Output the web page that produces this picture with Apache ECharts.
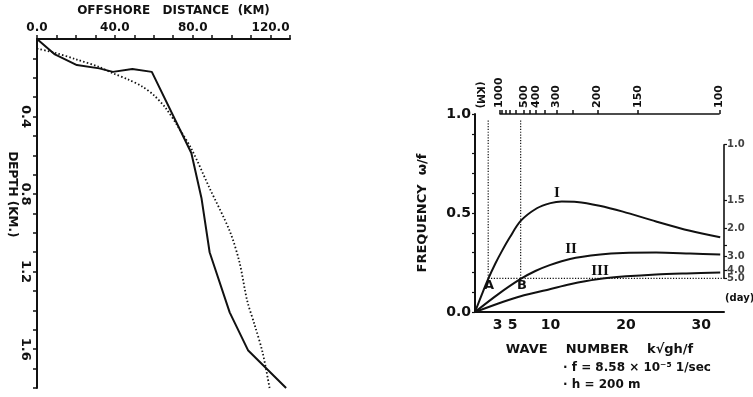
<!DOCTYPE html>
<html>
<head>
<meta charset="utf-8">
<script src="https://cdn.jsdelivr.net/npm/echarts@6/dist/echarts.min.js"></script>
<style>
  html, body { margin: 0; padding: 0; background: #fff; }
  #chart { width: 753px; height: 397px; }
</style>
</head>
<body>
<div id="chart"></div>
<script>
// left panel: shelf profile
const shelfKm = [0, 9.2, 20.5, 32, 39, 49, 59, 79.3, 84.5, 88.7, 99, 108.4, 128];
const shelfDepth = [0, 0.08, 0.135, 0.152, 0.17, 0.155, 0.17, 0.588, 0.82, 1.10, 1.41, 1.605, 1.8];
const modelKm = [0, 9.3, 20, 32, 39, 47, 54, 60, 66, 72, 79.5, 88.7, 99, 104, 108, 112, 116, 119.5];
const modelDepth = [0.05, 0.072, 0.105, 0.145, 0.177, 0.21, 0.245, 0.29, 0.355, 0.445, 0.57, 0.77, 0.99, 1.15, 1.35, 1.48, 1.62, 1.8];
const distLabels = [0, 40, 80, 120];
const depthLabels = [0.4, 0.8, 1.2, 1.6];

// right panel: dispersion curves
const waveNum1 = [0, 0.9, 1.75, 2.7, 3.6, 4.6, 6.05, 8.2, 10, 11.5, 13.5, 16.5, 19.6, 24, 28.5, 32.5];
const freq1 = [0, 0.088, 0.167, 0.245, 0.31, 0.376, 0.46, 0.524, 0.55, 0.558, 0.556, 0.537, 0.507, 0.457, 0.41, 0.378];
const waveNum2 = [0, 3.0, 6.05, 8, 9.9, 12.6, 16.6, 19.6, 24, 28.5, 32.5];
const freq2 = [0, 0.088, 0.167, 0.207, 0.237, 0.268, 0.29, 0.298, 0.3, 0.295, 0.29];
const waveNum3 = [0, 3.75, 6.05, 9.9, 12.6, 16.2, 20, 24, 28, 32.5];
const freq3 = [0, 0.052, 0.08, 0.115, 0.14, 0.165, 0.18, 0.19, 0.195, 0.199];
const waveNumLabels = [3, 5, 10, 20, 30];
const freqLabels = [0, 0.5, 1.0];
const wavelengthLabels = [1000, 500, 400, 300, 200, 150, 100];
const wavelengthTicks = [1000, 900, 800, 700, 600, 500, 450, 400, 350, 300, 250, 200, 150, 100];
const periodLabels = [1.0, 1.5, 2.0, 3.0, 4.0, 5.0];
const periodTicks = [1.0, 1.5, 2.0, 2.5, 3.0, 4.0, 5.0];
const markK = [1.75, 6.05]; // points A and B
const markPeriod = 5.0;

// k*sqrt(gh)/f = 2*pi*sqrt(gh)/f / L  ;  w/f = 2*pi/(f*T)
const kmToK = 3242;
const dayToW = 0.8476;
const kMax = 33;

const font = 'DejaVu Sans';
const black = '#111';
const zip = (a, b) => a.map((v, i) => [v, b[i]]);
const range = (a, b, s) => { const r = []; for (let v = a; v <= b + 1e-9; v += s) r.push(+v.toFixed(3)); return r; };

const chart = echarts.init(document.getElementById('chart'));

const txt = (x, y, text, size, family, align) => ({
  type: 'text', x: x, y: y,
  style: { text: text, font: 'bold ' + size + 'px "' + (family || font) + '"', fill: black, textAlign: align || 'left', textVerticalAlign: 'middle' }
});

const curve = (name, k, w) => ({
  name: name, type: 'line', xAxisIndex: 1, yAxisIndex: 1, data: zip(k, w),
  symbol: 'none', smooth: 0.3, lineStyle: { color: black, width: 2 }
});

const guide = (name, data, clip) => ({
  name: name, type: 'line', xAxisIndex: 1, yAxisIndex: 1, clip: clip, symbol: 'none', silent: true,
  data: data, lineStyle: { color: black, width: 1.2, type: [1.2, 1.6] }
});

const option = {
  backgroundColor: '#fff',
  animation: false,
  grid: [
    { left: 37, top: 37, width: 253, height: 351 },
    { left: 475, top: 114, width: 249, height: 198 }
  ],
  xAxis: [
    {
      gridIndex: 0, type: 'value', position: 'top', min: 0, max: 130,
      name: 'OFFSHORE   DISTANCE  (KM)', nameLocation: 'middle', nameGap: 21,
      nameTextStyle: { fontFamily: font, fontWeight: 'bold', fontSize: 12, color: black, padding: [0, 0, 0, 20] },
      axisLine: { onZero: false, lineStyle: { color: black, width: 2 } },
      axisTick: { customValues: range(0, 130, 10), length: 4, lineStyle: { color: black, width: 1.5 } },
      axisLabel: { customValues: distLabels, margin: 5, formatter: v => v.toFixed(1), fontFamily: font, fontWeight: 'bold', fontSize: 12, color: black },
      splitLine: { show: false }
    },
    {
      gridIndex: 1, type: 'value', position: 'bottom', min: 0, max: kMax,
      name: 'WAVE    NUMBER    k√gh/f', nameLocation: 'middle', nameGap: 31,
      nameTextStyle: { fontFamily: font, fontWeight: 'bold', fontSize: 13, color: black },
      axisLine: { onZero: false, lineStyle: { color: black, width: 2 } },
      axisTick: { show: false },
      axisLabel: { customValues: waveNumLabels, margin: 6, fontFamily: font, fontWeight: 'bold', fontSize: 14, color: black },
      splitLine: { show: false }
    },
    {
      gridIndex: 1, type: 'value', position: 'top', min: 0, max: kMax,
      axisLine: { show: false, onZero: false },
      axisTick: { customValues: wavelengthTicks.map(L => kmToK / L), length: 4, lineStyle: { color: black, width: 1.5 } },
      axisLabel: {
        customValues: wavelengthLabels.map(L => kmToK / L), rotate: -90, margin: 6, hideOverlap: false,
        formatter: v => String(Math.round(kmToK / v / 10) * 10),
        fontFamily: font, fontWeight: 'bold', fontSize: 11, color: black
      },
      splitLine: { show: false }
    }
  ],
  yAxis: [
    {
      gridIndex: 0, type: 'value', inverse: true, min: 0, max: 1.8,
      name: 'DEPTH (KM.)', nameLocation: 'middle', nameGap: 19, nameRotate: -90,
      nameTextStyle: { fontFamily: font, fontWeight: 'bold', fontSize: 12, color: black, padding: [0, 38, 0, 0] },
      axisLine: { onZero: false, lineStyle: { color: black, width: 2 } },
      axisTick: { customValues: range(0.1, 1.8, 0.1), length: 4, lineStyle: { color: black, width: 1.5 } },
      axisLabel: { customValues: depthLabels, rotate: -90, margin: 5, formatter: v => v.toFixed(1), fontFamily: font, fontWeight: 'bold', fontSize: 13, color: black },
      splitLine: { show: false }
    },
    {
      gridIndex: 1, type: 'value', min: 0, max: 1,
      name: 'FREQUENCY  ω/f', nameLocation: 'middle', nameGap: 46,
      nameTextStyle: { fontFamily: font, fontWeight: 'bold', fontSize: 13, color: black },
      axisLine: { onZero: false, lineStyle: { color: black, width: 2 } },
      axisTick: { customValues: range(0, 1, 0.1), length: 3, lineStyle: { color: black, width: 1.2 } },
      axisLabel: { customValues: freqLabels, margin: 4, formatter: v => v.toFixed(1), fontFamily: font, fontWeight: 'bold', fontSize: 14, color: black },
      splitLine: { show: false }
    },
    {
      // period (day) axis: ticks only, labels come from the series below
      gridIndex: 1, type: 'value', position: 'right', min: 0, max: 1,
      axisLine: { show: false, onZero: false },
      axisTick: { customValues: periodTicks.map(T => dayToW / T), length: 3, lineStyle: { color: black, width: 1.2 } },
      axisLabel: { show: false },
      splitLine: { show: false }
    }
  ],
  series: [
    {
      name: 'shelf', type: 'line', xAxisIndex: 0, yAxisIndex: 0, data: zip(shelfKm, shelfDepth),
      symbol: 'none', lineStyle: { color: black, width: 2 }
    },
    {
      name: 'model', type: 'line', xAxisIndex: 0, yAxisIndex: 0, data: zip(modelKm, modelDepth),
      symbol: 'none', smooth: 0.3, lineStyle: { color: black, width: 1.8, type: [1.5, 2.2] }
    },
    curve('I', waveNum1, freq1),
    curve('II', waveNum2, freq2),
    curve('III', waveNum3, freq3),
    {
      // wavelength axis line
      name: 'topAxis', type: 'line', xAxisIndex: 1, yAxisIndex: 1, clip: false, symbol: 'none', silent: true,
      data: [[kmToK / wavelengthLabels[0], 1], [kmToK / wavelengthLabels[wavelengthLabels.length - 1], 1]],
      lineStyle: { color: black, width: 1.6 }
    },
    {
      // period axis line
      name: 'rightAxis', type: 'line', xAxisIndex: 1, yAxisIndex: 1, clip: false, symbol: 'none', silent: true,
      data: [[kMax, dayToW / periodLabels[periodLabels.length - 1]], [kMax, dayToW / periodLabels[0]]],
      lineStyle: { color: black, width: 1.6 }
    },
    {
      name: 'periodLabels', type: 'scatter', xAxisIndex: 1, yAxisIndex: 1, clip: false, silent: true,
      symbol: 'circle', symbolSize: 2, itemStyle: { color: 'rgba(0,0,0,0)' },
      data: periodLabels.map(T => [kMax, dayToW / T, T]),
      label: {
        show: true, position: 'right', distance: 2,
        formatter: p => p.value[2].toFixed(1),
        fontFamily: font, fontWeight: 'bold', fontSize: 10, color: black
      },
      labelLayout: { hideOverlap: false }
    },
    guide('guideH', [[markK[0], dayToW / markPeriod], [kMax, dayToW / markPeriod]], false),
    guide('guideA', [[markK[0], dayToW / markPeriod], [markK[0], 0.97]], true),
    guide('guideB', [[markK[1], dayToW / markPeriod], [markK[1], 0.97]], true)
  ],
  graphic: [
    Object.assign(txt(480, 95, '(KM)', 10, font, 'center'), { rotation: -Math.PI / 2 }),
    txt(725, 298, '(day)', 10),
    txt(484, 286, 'A', 13),
    txt(517, 286, 'B', 13),
    txt(557, 193, 'I', 15, 'Liberation Serif', 'center'),
    txt(571, 249, 'II', 15, 'Liberation Serif', 'center'),
    txt(600, 271, 'III', 15, 'Liberation Serif', 'center'),
    txt(563, 368, '· f = 8.58 × 10⁻⁵ 1/sec', 12),
    txt(563, 385, '· h = 200 m', 12)
  ]
};

chart.setOption(option);
</script>
</body>
</html>
